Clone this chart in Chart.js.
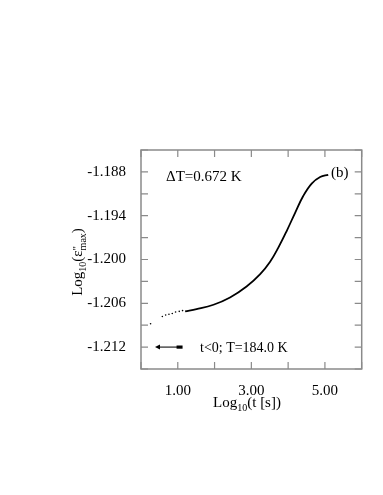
<!DOCTYPE html>
<html>
<head>
<meta charset="utf-8">
<script src="https://cdn.jsdelivr.net/npm/chart.js@4"></script>
<style>
  body { margin: 0; background: #fff; }
  canvas { display: block; }
</style>
</head>
<body>
<canvas id="chart" width="383" height="495"></canvas>
<script>
// Data
const logT = [1.20, 1.51, 1.97, 2.42, 2.87, 3.24, 3.51, 3.73, 3.96, 4.19, 4.41, 4.64, 4.87, 5.09];
const logEps = [-1.2071, -1.2068, -1.2062, -1.2052, -1.2037, -1.2020, -1.2003, -1.1984, -1.1961, -1.1936, -1.1913, -1.1896, -1.1887, -1.1884];

// sparse dotted points at early times
const dotT = [0.26, 0.58, 0.67, 0.76, 0.85, 0.94, 1.04, 1.13];
const dotEps = [-1.2088, -1.2078, -1.2076, -1.2075, -1.2074, -1.2072, -1.2071, -1.2070];

const xTickLabels = [1, 3, 5];
const yTickLabels = [-1.188, -1.194, -1.200, -1.206, -1.212];

const serif = '"Liberation Serif", "Times New Roman", serif';
const frameColor = '#8a8a8a';

function toPoints(xs, ys) {
    return xs.map((x, i) => ({ x: x, y: ys[i] }));
}

// draws a text made of parts (normal / sub / sup), centred at x
function drawParts(ctx, parts, x, y) {
    let total = 0;
    parts.forEach(p => {
        ctx.font = p.size + 'px ' + serif;
        p.w = ctx.measureText(p.text).width;
        if (p.stack) {
            ctx.font = p.stack.size + 'px ' + serif;
            p.w = Math.max(p.w, ctx.measureText(p.stack.text).width);
        }
        total += p.w;
    });
    let cx = x - total / 2;
    ctx.textAlign = 'left';
    ctx.textBaseline = 'alphabetic';
    parts.forEach(p => {
        ctx.font = p.size + 'px ' + serif;
        ctx.fillText(p.text, cx, y + (p.dy || 0));
        if (p.stack) {
            ctx.font = p.stack.size + 'px ' + serif;
            ctx.fillText(p.stack.text, cx, y + p.stack.dy);
        }
        cx += p.w;
    });
}

const framePlugin = {
    id: 'frame',
    afterDraw(chart) {
        const ctx = chart.ctx;
        const a = chart.chartArea;
        const xs = chart.scales.x;
        const ys = chart.scales.y;
        ctx.save();
        ctx.strokeStyle = frameColor;
        ctx.lineWidth = 1.5;
        ctx.strokeRect(a.left, a.top, a.right - a.left, a.bottom - a.top);

        // inward ticks on all four sides
        ctx.lineWidth = 1.2;
        ctx.beginPath();
        xs.ticks.forEach(t => {
            const px = xs.getPixelForValue(t.value);
            ctx.moveTo(px, a.bottom); ctx.lineTo(px, a.bottom - 7);
            ctx.moveTo(px, a.top); ctx.lineTo(px, a.top + 7);
        });
        ys.ticks.forEach(t => {
            const py = ys.getPixelForValue(t.value);
            ctx.moveTo(a.left, py); ctx.lineTo(a.left + 7, py);
            ctx.moveTo(a.right, py); ctx.lineTo(a.right - 7, py);
        });
        ctx.stroke();

        ctx.fillStyle = '#000';

        // axis titles
        drawParts(ctx, [
            { text: 'Log', size: 15 },
            { text: '10', size: 10, dy: 4 },
            { text: '(t [s])', size: 15 }
        ], 247, 407);

        ctx.save();
        ctx.translate(82, 262);
        ctx.rotate(-Math.PI / 2);
        drawParts(ctx, [
            { text: 'Log', size: 15 },
            { text: '10', size: 10, dy: 4 },
            { text: '(\u03b5', size: 15 },
            { text: '"', size: 11, dy: -2, stack: { text: 'max', size: 10, dy: 4 } },
            { text: ')', size: 15 }
        ], 0, 0);
        ctx.restore();

        // annotations
        ctx.font = '15px ' + serif;
        ctx.textAlign = 'left';
        ctx.textBaseline = 'middle';
        ctx.fillText('\u0394T=0.672 K', 166, 177);
        ctx.fillText('(b)', 331, 173);
        ctx.font = '14px ' + serif;
        ctx.fillText('t<0; T=184.0 K', 200, 348);

        // arrow pointing to negative times
        const ay = ys.getPixelForValue(-1.212);
        const ax0 = xs.getPixelForValue(0.38);
        const ax1 = xs.getPixelForValue(1.13);
        ctx.strokeStyle = '#333';
        ctx.lineWidth = 1.3;
        ctx.beginPath();
        ctx.moveTo(ax0 + 3, ay);
        ctx.lineTo(ax1 - 5, ay);
        ctx.stroke();
        ctx.fillStyle = '#000';
        ctx.beginPath();
        ctx.moveTo(ax0, ay);
        ctx.lineTo(ax0 + 5, ay - 2.5);
        ctx.lineTo(ax0 + 5, ay + 2.5);
        ctx.closePath();
        ctx.fill();
        ctx.fillRect(ax1 - 6, ay - 1.6, 6, 3.2);
        ctx.restore();
    }
};

new Chart(document.getElementById('chart'), {
    type: 'scatter',
    data: {
        datasets: [
            {
                data: toPoints(logT, logEps),
                showLine: true,
                borderColor: '#000',
                borderWidth: 1.8,
                pointRadius: 0,
                tension: 0.4
            },
            {
                data: toPoints(dotT, dotEps),
                showLine: false,
                backgroundColor: '#000',
                borderWidth: 0,
                pointRadius: 0.8
            }
        ]
    },
    options: {
        responsive: false,
        animation: false,
        layout: { padding: { top: 150, right: 21.3, left: 0, bottom: 0 } },
        plugins: {
            legend: { display: false },
            tooltip: { enabled: false }
        },
        scales: {
            x: {
                type: 'linear',
                min: 0,
                max: 6,
                grid: { display: false },
                border: { display: false },
                ticks: {
                    stepSize: 1,
                    autoSkip: false,
                    maxRotation: 0,
                    padding: 5,
                    color: '#000',
                    font: { family: serif, size: 15 },
                    callback: v => xTickLabels.includes(v) ? v.toFixed(2) : ''
                },
                afterFit: s => { s.height = 126; }
            },
            y: {
                min: -1.215,
                max: -1.185,
                grid: { display: false },
                border: { display: false },
                ticks: {
                    stepSize: 0.003,
                    autoSkip: false,
                    padding: 7,
                    color: '#000',
                    font: { family: serif, size: 15 },
                    callback: v => yTickLabels.some(l => Math.abs(l - v) < 1e-6) ? v.toFixed(3) : ''
                },
                afterFit: s => { s.width = 141; }
            }
        }
    },
    plugins: [framePlugin]
});
</script>
</body>
</html>
